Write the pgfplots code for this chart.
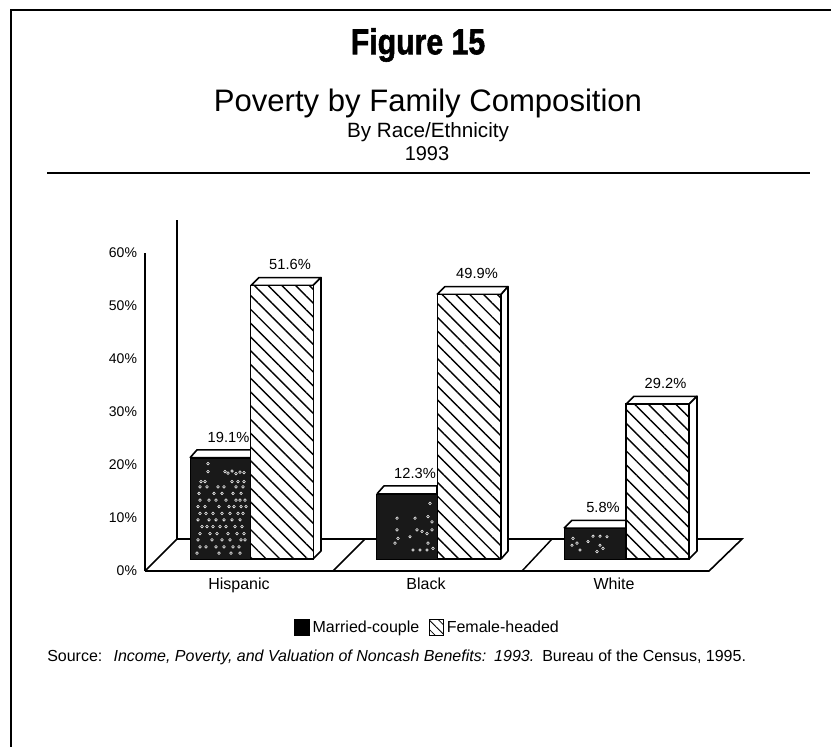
\documentclass[border=0pt]{standalone}
\usepackage{fontspec}
\usepackage{graphicx}
\usepackage{pgfplots}
\pgfplotsset{compat=1.18}
\usetikzlibrary{patterns.meta}
\setmainfont{Liberation Sans}
\newfontfamily\heavy[FakeBold=1.6]{Liberation Sans Bold}

\pgfplotsset{
    hatched/.style={draw=black, line width=1.2pt, pattern={Lines[angle=-45,distance=7.3pt,line width=1.05pt]}},
    face/.style={draw=black, line width=1.2pt, fill=white, forget plot, line join=round, yshift=9pt},
    speck/.style={only marks, mark=o, mark size=1pt, mark options={draw=white, line width=0.4pt}, forget plot, yshift=9pt},
    barlabel/.style={
        nodes near coords={\pgfmathprintnumber[fixed,fixed zerofill,precision=1]{\pgfplotspointmeta}\%},
        every node near coord/.append style={font=\fontsize{11}{13}\selectfont, anchor=center, xshift=6pt, yshift=15.5pt}
    }
}

\begin{document}
\begin{tikzpicture}
% picture is laid out in reference pixels: 1 px = 0.75 pt, y down
\begin{scope}[x=0.75pt,y=-0.75pt]
\path[use as bounding box] (0,0) rectangle (831,747);
\draw[line width=2.2pt] (831,10) -- (11,10) -- (11,747);
\draw[line width=1.4pt] (47,173) -- (810,173);
\node at (418,45) {\scalebox{0.84}[1]{\heavy\fontsize{27}{30}\selectfont Figure 15}};
\node at (428,103) {\fontsize{23.3}{28}\selectfont Poverty by Family Composition};
\node at (428,132) {\fontsize{15.5}{18}\selectfont By Race/Ethnicity};
\node at (427,154) {\fontsize{15}{18}\selectfont 1993};
\node[anchor=west, inner sep=0pt] at (47,657) {\fontsize{12}{14}\selectfont Source:\hspace{0.7em}\textit{Income, Poverty, and Valuation of Noncash Benefits:\hspace{0.5em}1993.}\hspace{0.5em}Bureau of the Census, 1995.};
\end{scope}

\begin{axis}[
    at={(108.75pt,-428.25pt)},
    anchor=south west,
    scale only axis,
    width=447.75pt,
    height=238.5pt,
    xmin=145, xmax=742,
    ymin=0, ymax=60,
    clip=false,
    axis y line*=left,
    axis x line*=bottom,
    x axis line style={draw=none},
    y axis line style={-, line width=1.1pt},
    major tick length=0pt,
    xtick={239,426,614},
    xticklabels={Hispanic,Black,White},
    xticklabel style={font=\fontsize{12}{14}\selectfont, yshift=-2pt},
    ytick={0,10,20,30,40,50,60},
    yticklabel={\pgfmathprintnumber{\tick}\%},
    /pgf/number format/assume math mode=true,
    yticklabel style={font=\fontsize{10.5}{13}\selectfont, xshift=-2.5pt},
    legend style={
        at={(0.474,-0.179)}, anchor=center, draw=none, fill=none,
        legend columns=2, font=\fontsize{12}{14}\selectfont,
        /tikz/every even column/.append style={column sep=5pt},
        inner sep=0pt
    },
    legend image code/.code={\draw[#1,line width=0.8pt] (0cm,-0.2cm) rectangle (0.38cm,0.22cm);}
]
\addlegendimage{fill=black,draw=black}
\addlegendimage{draw=black,pattern={Lines[angle=-45,distance=5pt,line width=0.6pt]}}
\legend{Married-couple,Female-headed}

% floor and back wall
\addplot[draw=black, line width=1.2pt, fill=white, forget plot] coordinates {(145,0) (709,0) (742,6.04) (177,6.04) (145,0)};
\addplot[black, line width=1.1pt, forget plot] coordinates {(333,0) (365,6.04)};
\addplot[black, line width=1.1pt, forget plot] coordinates {(522,0) (552,6.04)};
\addplot[black, line width=1.1pt, forget plot] coordinates {(177,6.04) (177,66.2)};

% married-couple bars
\addplot[face] coordinates {(190,19.1) (197,20.6) (251,20.6) (251,19.1) (190,19.1)};
\addplot[face] coordinates {(377,12.3) (384,13.8) (437,13.8) (437,12.3) (377,12.3)};
\addplot[face] coordinates {(564,5.8) (572,7.3) (626,7.3) (626,5.8) (564,5.8)};
\addplot[ybar, bar width=45.75pt, bar shift=0pt, fill=black!90, draw=black, forget plot, yshift=9pt, barlabel]
    coordinates {(220.5,19.1) (407,12.3) (595,5.8)};
\addplot[speck] coordinates {
    (208,18) (208,16.5) (225,16.5) (232,16.6) (240,16.4) (228,16.2) (236,16.1) (244,16.3)
    (201,14.6) (205,14.6) (232,14.6) (238,14.6) (244,14.6)
    (200,13.6) (207,13.6) (218,13.6) (224,13.6) (236,13.6) (243,13.6)
    (199,12.4) (214,12.4) (222,12.4) (233,12.4) (241,12.4)
    (200,11.1) (209,11.1) (216,11.1) (226,11.1) (236,11.1) (240,11.1) (245,11.1)
    (198,9.9) (205,9.9) (219,9.9) (229,9.9) (234,9.9) (241,9.9) (246,9.9)
    (200,8.6) (206,8.6) (213,8.6) (222,8.6) (230,8.6) (238,8.6) (243,8.6)
    (198,7.4) (209,7.4) (216,7.4) (224,7.4) (232,7.4) (240,7.4)
    (202,6.1) (207,6.1) (213,6.1) (220,6.1) (226,6.1) (235,6.1) (242,6.1)
    (200,4.8) (210,4.8) (217,4.8) (228,4.8) (237,4.8) (244,4.8)
    (198,3.6) (212,3.6) (222,3.6) (230,3.6) (241,3.6) (245,3.6)
    (200,2.3) (206,2.3) (216,2.3) (224,2.3) (233,2.3) (239,2.3)
    (197,1.1) (219,1.1) (231,1.1) (240,1.1)
};
\addplot[speck] coordinates {
    (397,7.7) (415,7.7) (430,10.5) (428,8) (432,7) (397,5.5) (417,5.5) (422,5.2) (427,4.8)
    (432,5.5) (398,3.9) (395,3) (410,4.2) (428,3) (413,1.7) (420,1.7) (427,1.7) (433,2)
};
\addplot[speck] coordinates {
    (573,3.9) (577,3) (580,1.7) (572,2.6) (593,4.3) (600,4.3) (607,4.2) (600,2.6) (603,2) (597,1.4) (588,3.3)
};

% female-headed bars
\addplot[face] coordinates {(251,51.6) (259,53.1) (321,53.1) (313,51.6) (251,51.6)};
\addplot[face] coordinates {(313,0) (321,1.51) (321,53.1) (313,51.6) (313,0)};
\addplot[face] coordinates {(437,49.9) (445,51.4) (508,51.4) (501,49.9) (437,49.9)};
\addplot[face] coordinates {(501,0) (508,1.51) (508,51.4) (501,49.9) (501,0)};
\addplot[face] coordinates {(626,29.2) (634,30.7) (697,30.7) (689,29.2) (626,29.2)};
\addplot[face] coordinates {(689,0) (697,1.51) (697,30.7) (689,29.2) (689,0)};
% white under the hatching so the floor line does not show through
\addplot[ybar, bar width=47pt, bar shift=0pt, fill=white, draw=none, forget plot, yshift=9pt]
    coordinates {(282,51.6) (469,49.9) (657.5,29.2)};
\addplot[ybar, bar width=47pt, bar shift=0pt, hatched, forget plot, yshift=9pt, barlabel]
    coordinates {(282,51.6) (469,49.9) (657.5,29.2)};
\end{axis}
\end{tikzpicture}
\end{document}
